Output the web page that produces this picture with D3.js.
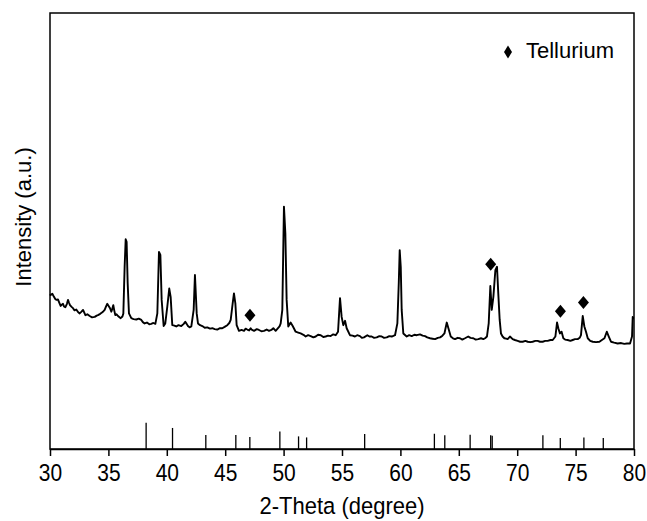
<!DOCTYPE html>
<html>
<head>
<meta charset="utf-8">
<script src="https://cdn.jsdelivr.net/npm/d3@7"></script>
<style>
  body { margin: 0; background: #fff; }
  svg { display: block; font-family: "Liberation Sans", Arial, sans-serif; }
</style>
</head>
<body>
<div id="chart"></div>
<script>
// measured XRD trace (2-theta in degrees, intensity in a.u.)
var twoTheta = [30.0, 30.06, 30.2, 30.34, 30.45, 30.54, 30.68, 30.8, 30.91, 31.0, 31.11, 31.2, 31.31, 31.45, 31.54, 31.62, 31.71, 31.85, 31.97, 32.1, 32.25, 32.4, 32.54, 32.7, 32.83, 33.03, 33.2, 33.4, 33.6, 33.83, 34.0, 34.11, 34.3, 34.45, 34.58, 34.68, 34.8, 34.9, 35.02, 35.14, 35.25, 35.34, 35.42, 35.5, 35.59, 35.7, 35.82, 35.95, 36.05, 36.2, 36.28, 36.39, 36.48, 36.56, 36.65, 36.76, 36.96, 37.15, 37.39, 37.6, 37.82, 37.95, 38.1, 38.3, 38.5, 38.67, 38.85, 39.02, 39.19, 39.33, 39.45, 39.56, 39.73, 39.87, 40.04, 40.21, 40.33, 40.47, 40.65, 40.81, 41.0, 41.24, 41.45, 41.58, 41.7, 41.81, 41.95, 42.1, 42.3, 42.41, 42.56, 42.67, 42.85, 43.04, 43.25, 43.47, 43.7, 43.9, 44.1, 44.32, 44.55, 44.75, 44.95, 45.18, 45.35, 45.47, 45.64, 45.75, 45.87, 45.98, 46.18, 46.4, 46.61, 46.75, 46.89, 47.05, 47.18, 47.3, 47.47, 47.7, 47.89, 48.1, 48.32, 48.55, 48.75, 48.95, 49.12, 49.32, 49.52, 49.65, 49.75, 49.89, 50.03, 50.15, 50.26, 50.4, 50.6, 50.78, 51.03, 51.25, 51.46, 51.7, 51.89, 52.1, 52.32, 52.55, 52.75, 52.95, 53.18, 53.4, 53.6, 53.8, 54.03, 54.25, 54.46, 54.66, 54.83, 54.97, 55.11, 55.26, 55.4, 55.68, 55.9, 56.11, 56.3, 56.54, 56.7, 56.88, 57.17, 57.35, 57.54, 57.75, 57.97, 58.2, 58.4, 58.6, 58.83, 59.05, 59.26, 59.54, 59.74, 59.86, 59.94, 60.03, 60.11, 60.25, 60.54, 60.75, 60.97, 61.2, 61.4, 61.68, 61.9, 62.11, 62.3, 62.54, 62.75, 62.97, 63.2, 63.4, 63.6, 63.77, 63.97, 64.11, 64.31, 64.5, 64.68, 64.9, 65.1, 65.3, 65.53, 65.81, 66.0, 66.24, 66.45, 66.67, 66.9, 67.1, 67.25, 67.41, 67.56, 67.7, 67.82, 67.96, 68.13, 68.27, 68.38, 68.5, 68.61, 68.75, 68.9, 69.05, 69.18, 69.38, 69.61, 69.8, 70.04, 70.25, 70.47, 70.7, 70.9, 71.1, 71.32, 71.55, 71.75, 71.95, 72.18, 72.4, 72.61, 72.85, 73.04, 73.27, 73.41, 73.52, 73.66, 73.8, 73.95, 74.1, 74.32, 74.55, 74.75, 74.95, 75.18, 75.35, 75.46, 75.61, 75.75, 75.89, 76.04, 76.25, 76.47, 76.75, 77.04, 77.25, 77.47, 77.67, 77.84, 78.03, 78.3, 78.6, 78.9, 79.17, 79.4, 79.66, 79.83, 79.89, 79.95, 80.0];
var intensity = [355, 353, 356, 349, 344, 342, 343, 335, 328, 331, 333, 327, 325, 333, 342, 336, 330, 326, 323, 318, 320, 314, 311, 315, 319, 307, 309, 305, 302, 303, 306, 307, 310, 313, 316, 319, 327, 333, 328, 323, 315, 322, 330, 318, 307, 309, 305, 302, 300, 304, 311, 418, 481, 475, 380, 311, 300, 298, 297, 299, 296, 291, 288, 290, 286, 287, 289, 287, 311, 452, 445, 342, 282, 288, 326, 368, 349, 284, 283, 281, 284, 282, 287, 292, 287, 282, 279, 281, 319, 399, 311, 288, 284, 282, 278, 279, 276, 277, 275, 274, 277, 277, 280, 284, 289, 296, 334, 357, 334, 284, 271, 273, 271, 276, 274, 272, 277, 273, 271, 275, 273, 270, 271, 274, 271, 273, 277, 271, 277, 281, 288, 319, 556, 495, 342, 281, 290, 282, 269, 267, 265, 262, 258, 261, 259, 256, 258, 262, 261, 257, 258, 260, 259, 263, 261, 269, 346, 303, 284, 294, 277, 261, 260, 258, 261, 259, 255, 256, 261, 258, 258, 255, 256, 259, 258, 255, 256, 259, 258, 261, 288, 380, 456, 418, 319, 265, 258, 261, 259, 262, 261, 263, 260, 259, 256, 254, 253, 252, 255, 256, 260, 265, 290, 277, 258, 254, 252, 255, 254, 251, 254, 258, 255, 254, 251, 252, 254, 252, 254, 258, 288, 374, 319, 349, 410, 418, 357, 296, 265, 258, 254, 253, 252, 258, 252, 250, 248, 246, 246, 248, 246, 245, 246, 248, 248, 246, 246, 248, 248, 250, 250, 258, 290, 277, 265, 269, 254, 251, 250, 248, 250, 252, 252, 255, 261, 305, 281, 269, 254, 248, 246, 245, 246, 250, 254, 269, 258, 246, 244, 242, 243, 241, 242, 242, 258, 303, 300, 300];

// Tellurium peak markers
var tePeaks = [47.12, 67.73, 73.7, 75.67];
var teMarks = [307, 424, 316, 336];

// reference pattern sticks (relative intensity)
var refTheta = [38.23, 40.49, 43.34, 45.91, 47.11, 49.68, 51.28, 51.97, 56.94, 62.91, 63.8, 65.97, 67.73, 67.86, 72.2, 73.69, 75.71, 77.37];
var refHeight = [100, 80, 53, 53, 46, 67, 48, 44, 57, 58, 52, 54, 52, 50, 52, 42, 44, 42];

var xTicks = [30, 35, 40, 45, 50, 55, 60, 65, 70, 75, 80];

var width = 647, height = 521;
var margin = {top: 13, right: 13, bottom: 72, left: 50};
var w = width - margin.left - margin.right;
var h = height - margin.top - margin.bottom;

var svg = d3.select("#chart").append("svg").attr("width", width).attr("height", height);
var g = svg.append("g").attr("transform", "translate(" + margin.left + "," + margin.top + ")");

var x = d3.scaleLinear().domain([30, 80]).range([0, w]);
var y = d3.scaleLinear().domain([0, 1000]).range([h, 0]);
var yRef = d3.scaleLinear().domain([0, 100]).range([h, h - 26.3]);

var diamond = function(cx, cy, rw, rh) {
  return "M" + cx + "," + (cy - rh) + "L" + (cx + rw) + "," + cy + "L" + cx + "," + (cy + rh) + "L" + (cx - rw) + "," + cy + "Z";
};

// reference sticks
g.append("g").selectAll("line").data(refTheta).enter().append("line")
  .attr("x1", function(d) { return x(d); }).attr("x2", function(d) { return x(d); })
  .attr("y1", h).attr("y2", function(d, i) { return yRef(refHeight[i]); })
  .attr("stroke", "#000").attr("stroke-width", 1.3);

// trace
var line = d3.line().x(function(d) { return x(d); }).y(function(d, i) { return y(intensity[i]); });
g.append("path").datum(twoTheta).attr("d", line)
  .attr("fill", "none").attr("stroke", "#000").attr("stroke-width", 1.9).attr("stroke-linejoin", "round");

// Tellurium markers
g.append("g").selectAll("path").data(tePeaks).enter().append("path")
  .attr("d", function(d, i) { return diamond(x(d), y(teMarks[i]), 5.5, 6.5); })
  .attr("fill", "#000");

// frame
g.append("rect").attr("width", w).attr("height", h).attr("fill", "none").attr("stroke", "#000").attr("stroke-width", 1.5);

// bottom axis
var xAxis = g.append("g").attr("transform", "translate(0," + h + ")")
  .call(d3.axisBottom(x).tickValues(xTicks).tickSize(7).tickSizeOuter(0));
xAxis.select(".domain").attr("stroke-width", 1.5);
xAxis.selectAll(".tick line").attr("stroke-width", 1.5);
xAxis.selectAll("text").attr("y", null).attr("dy", null)
  .attr("transform", "translate(0,31.5) scale(1,1.15)")
  .style("font-size", "21px").attr("fill", "#000");

// axis titles
svg.append("text").attr("transform", "translate(" + (margin.left + w / 2) + ",514) scale(1,1.08)")
  .attr("text-anchor", "middle").style("font-size", "22px").text("2-Theta (degree)");
svg.append("text").attr("transform", "translate(31,217) rotate(-90)").attr("text-anchor", "middle")
  .style("font-size", "22px").text("Intensity (a.u.)");

// legend
svg.append("path").attr("d", diamond(508, 52, 4, 6.5)).attr("fill", "#000");
svg.append("text").attr("x", 526).attr("y", 58).style("font-size", "22px").text("Tellurium");
</script>
</body>
</html>
